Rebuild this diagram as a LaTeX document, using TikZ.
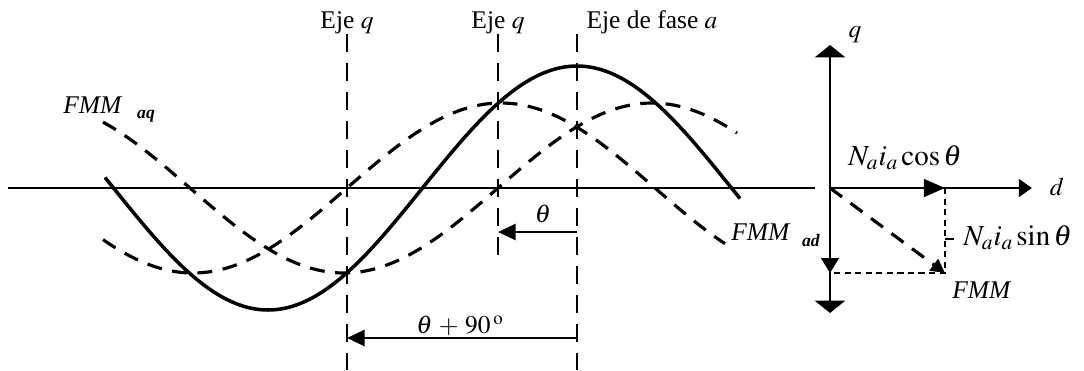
\documentclass[tikz,border=0pt]{standalone}
\usepackage{mathptmx}
\usepackage{fontspec}
\setmainfont{Liberation Serif}
\usetikzlibrary{arrows.meta}

\begin{document}
\begin{tikzpicture}[x=0.02cm,y=-0.02cm,>={Triangle[length=10pt,width=9pt]},
  ejeline/.style={line width=1.5pt,dash pattern=on 10.5pt off 6pt},
  wave/.style={line width=2pt},
  dwave/.style={line width=1.8pt,dash pattern=on 8.5pt off 6pt},
  vec/.style={line width=1.6pt},
  font=\fontsize{14.5}{17}\selectfont]
  \useasboundingbox (0,0) rectangle (1084,370);
  % eje horizontal
  \draw[line width=1.4pt] (8,188) -- (815,188);
  % ejes q y eje de fase a
  \foreach \x/\y in {347/370,498/257,577/370} {
    \draw[ejeline] (\x,34) -- (\x,\y);
  }
  \node[anchor=base] (eqa) at (347,28) {Eje $q$};
  \node[anchor=base] (eqb) at (498,28) {Eje $q$};
  \node[anchor=base] (efa) at (652,28) {Eje de fase $a$};
  % ondas
  \draw[wave] plot[domain=105:740,samples=120,smooth] (\x,{188-122*cos((\x-577)/309*180)});
  \draw[dwave] plot[domain=103:725,samples=120,smooth] (\x,{188-85*cos((\x-501)/308*180)});
  \draw[dwave] plot[domain=103:737,samples=120,smooth] (\x,{188+85*cos((\x-344)/308*180)});
  \node (fmmaq) at (93,105) {\textit{FMM}};
  \node (aq) at (146,116) {\fontsize{10}{12}\selectfont\textbf{\textit{aq}}};
  \node (fmmad) at (761,232) {\textit{FMM}};
  \node (ad) at (811,240) {\fontsize{10}{12}\selectfont\textbf{\textit{ad}}};
  % angulos
  \coordinate (ta) at (577,232);
  \coordinate (tb) at (498,232);
  \coordinate (tc) at (577,338);
  \coordinate (td) at (347,338);
  \draw[vec,->] (ta) -- (tb);
  \draw[vec,->] (tc) -- (td);
  \node (th) at (543,214) {$\theta$};
  \node (th90) at (460,326) {$\theta\,+\,90\,^{\mathrm{o}}$};
  % diagrama d-q
  \coordinate (O) at (830,188);
  \coordinate (qtop) at (830,45);
  \coordinate (qbot) at (830,313);
  \coordinate (dtip) at (1032,188);
  \coordinate (Pd) at (945,188);
  \coordinate (Pq) at (830,273);
  \coordinate (P) at (945,273);
  \coordinate (Ps) at (945,239);
  \coordinate (Pt) at (954,239);
  \draw[vec,-{Triangle[length=7pt,width=17pt]}] (O) -- (qtop);
  \draw[vec,-{Triangle[length=7pt,width=17pt]}] (O) -- (qbot);
  \draw[vec,-{Triangle[length=7.5pt,width=10pt]}] (O) -- (dtip);
  \draw[vec,-{Triangle[length=12pt,width=10pt]}] (O) -- (Pd);
  \draw[vec,-{Triangle[length=8.5pt,width=10pt]}] (O) -- (Pq);
  \draw[line width=0.7pt,dash pattern=on 3.5pt off 2.5pt] (Pd) -- (P) -- (Pq);
  \draw[dwave,-{Triangle[length=8pt,width=8pt]}] (O) -- (P);
  \node (qlab) at (855,35) {$q$};
  \node (dlab) at (1057,187) {$d$};
  \node[anchor=base west,inner sep=0pt] (cosl) at (848,165) {\fontsize{16.5}{19}\selectfont$N_a i_a\cos\theta$};
  \node[anchor=base west,inner sep=0pt] (sinl) at (963,245) {\fontsize{16.5}{19}\selectfont$N_a i_a\sin\theta$};
  \draw[line width=0.7pt] (Ps) -- (Pt);
  \node (fmm) at (982,290) {\textit{FMM}};
\end{tikzpicture}
\end{document}
